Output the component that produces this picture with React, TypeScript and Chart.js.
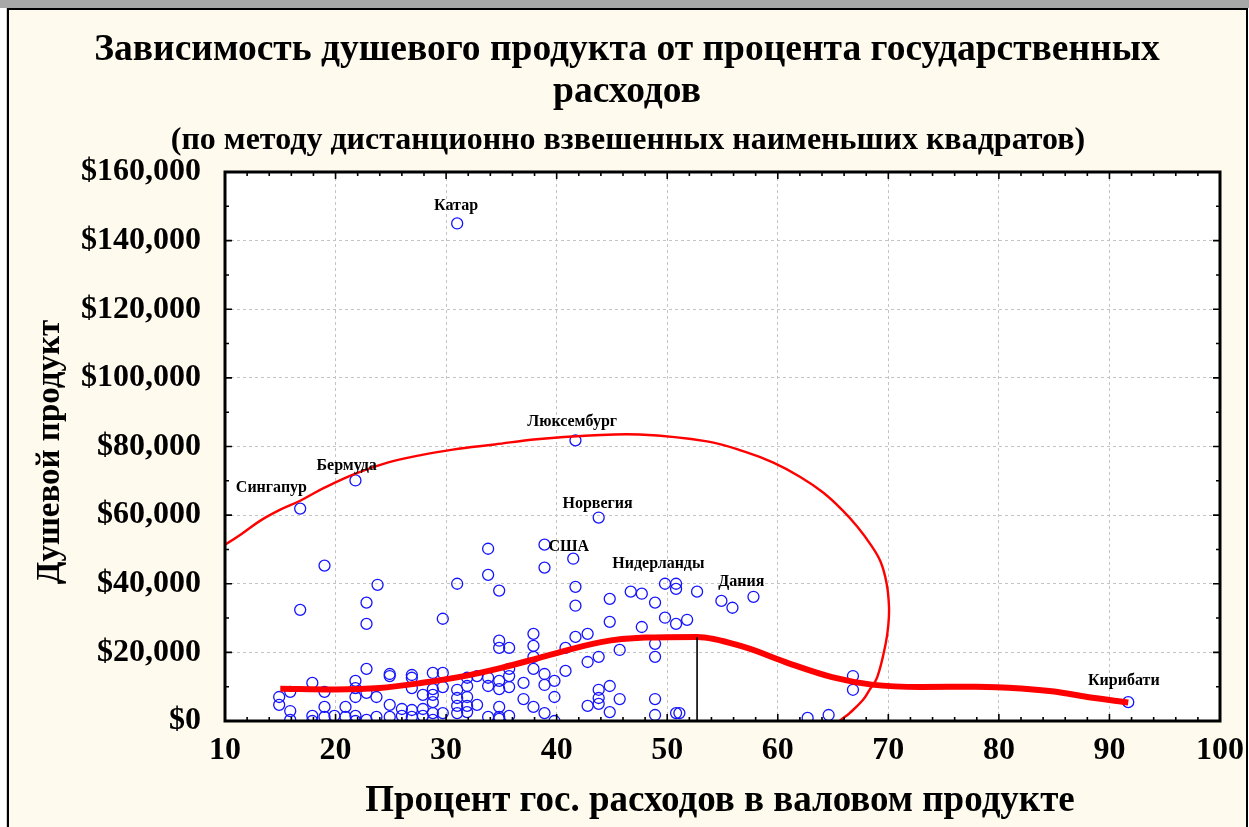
import React, { useEffect, useRef } from 'react';
import { Chart, registerables } from 'chart.js';
Chart.register(...registerables);

const W = 1249;
const H = 827;
const FONT = '"Liberation Serif", "Times New Roman", serif';

const title1 = 'Зависимость душевого продукта от процента государственных';
const title2 = 'расходов';
const subtitle = '(по методу дистанционно взвешенных наименьших квадратов)';
const xTitle = 'Процент гос. расходов в валовом продукте';
const yTitle = 'Душевой продукт';

const xMin = 10;
const xMax = 100;
const xStep = 10;
const yMin = 0;
const yMax = 160000;
const yStep = 20000;

const ptX = [
  31.0, 41.7, 21.8, 16.8, 43.8, 38.9, 91.7,
  41.5, 33.8, 19.0, 33.8, 23.8, 31.0, 34.8, 16.8, 22.8, 22.8, 29.7, 38.9, 41.7, 41.7,
  49.8, 50.8, 50.8, 52.7, 46.7, 47.7, 44.8, 48.9, 54.9, 55.9, 57.8,
  49.8, 50.8, 51.8, 47.7, 44.8, 42.8, 41.7, 40.8, 48.9, 48.9, 45.7, 43.8, 42.8,
  38.9, 39.8, 38.9, 40.8, 39.8, 43.8, 44.8, 43.8, 43.8, 42.8, 45.7, 44.8, 48.9, 48.9, 50.8, 51.1, 38.9, 39.8,
  66.8, 66.8, 62.7, 64.6,
  34.8, 34.8, 35.7, 37.9, 37.9, 37.9, 37.9,
  22.8, 24.9, 24.9, 26.9, 26.9, 28.8, 29.7, 17.9, 21.8, 21.8,
  31.9, 31.9, 32.8, 33.8, 33.8, 34.8, 34.8, 35.7, 35.7, 35.7, 37.0,
  14.9, 14.9, 15.9, 19.0, 22.8, 23.7, 21.8, 26.9, 27.9, 28.8, 28.8, 28.8, 29.7,
  31.0, 31.0, 31.0, 31.0, 31.9, 31.9, 31.9, 32.8, 34.8, 34.8, 35.7, 37.0, 37.9, 24.9,
  15.9, 15.9, 17.9, 17.9, 19.0, 19.0, 19.9, 20.9, 20.9, 21.8, 21.8, 22.8, 23.7, 24.9, 26.0, 26.0, 26.9, 26.9, 27.9, 27.9, 28.8, 28.8, 29.7, 33.8, 34.8,
];
const ptY = [
  145000, 81800, 70100, 61900, 59300, 51400, 5500,
  47300, 50200, 45300, 42600, 39700, 40000, 38000, 32400, 34500, 28300, 29800, 44700, 39100, 33600,
  40000, 40000, 38500, 37700, 37700, 37100, 35600, 34500, 35000, 33000, 36200,
  30100, 28300, 29500, 27400, 28900, 25400, 24500, 21300, 22500, 18700, 20700, 18700, 17200,
  13700, 11700, 10500, 14600, 7000, 9100, 10200, 6700, 5000, 4400, 6400, 2600, 6400, 1750, 2300, 2300, 2300, 0,
  13100, 9100, 900, 1750,
  23400, 21300, 21300, 25400, 21900, 18700, 15200,
  15200, 13700, 13100, 13400, 12600, 14000, 14000, 11100, 11700, 9600,
  12600, 10200, 13100, 12600, 10200, 11700, 9300, 15200, 13100, 9900, 11100,
  7000, 4700, 8500, 8500, 8200, 7000, 7000, 9600, 7600, 9300, 7600, 5500, 9900,
  9100, 6700, 4400, 2300, 7000, 4400, 2600, 4700, 4100, 1200, 1500, 6400, 4100, 4700,
  2900, 300, 1500, 0, 4100, 1200, 1500, 4100, 1200, 1500, 0, 300, 1200, 1200, 3500, 1500, 3200, 1200, 3500, 1500, 2300, 300, 2300, 1200, 600,
];

// distance-weighted least squares fit
const fitX = [15.0, 20, 24, 28, 31, 35, 39, 44, 48, 52.7, 57, 61, 65, 68.5, 73, 78, 82, 85, 88, 91.7];
const fitY = [9400, 9200, 9600, 11200, 12700, 15500, 18900, 23000, 24300, 24500, 21500, 16800, 12700, 10600, 9900, 10000, 9500, 8600, 7000, 5400];

// ellipse
const ellX = [
  7.7, 10.0, 11.4, 13.2, 15.0, 16.8, 19.0, 21.8, 24.7, 27.6, 30.6, 34.4, 38.2, 43.0, 47.5,
  53.6, 57.0, 59.6, 62.0, 64.1, 65.8, 67.2, 68.4, 69.3, 69.85, 70.06, 70.0, 69.75, 69.0, 68.3, 67.7, 66.5, 65.6, 64.5,
];
const ellY = [
  47000, 51400, 54300, 58400, 61600, 64200, 68000, 72100, 75300, 77400, 79100, 80600, 82100, 83200, 83500,
  81500, 78500, 75300, 71200, 66600, 61600, 56600, 51400, 46400, 40000, 33300, 28000, 22400, 12800, 9100, 6100, 2300, 0, -3500,
];

// vertical marker at the maximum
const markX = [52.7, 52.7];
const markY = [24400, 0];

const labelText = ['Катар', 'Люксембург', 'Бермуда', 'Сингапур', 'Норвегия', 'США', 'Нидерланды', 'Дания', 'Кирибати'];
const labelX = [30.9, 41.4, 21.0, 14.2, 43.7, 41.1, 49.2, 56.7, 91.3];
const labelY = [150100, 87300, 74500, 68000, 63400, 50800, 45800, 40600, 11700];

const zip = (xs: number[], ys: number[]) => xs.map((x, i) => ({ x, y: ys[i] }));

export default function App() {
  const ref = useRef<HTMLCanvasElement>(null);
  useEffect(() => {
    document.body.style.margin = '0';
    const canvas = ref.current!;
    const bgPlugin = {
      id: 'bgPlugin',
      beforeDraw(c: any) {
        const g = c.ctx;
        const a = c.chartArea;
        g.save();
        g.fillStyle = '#ffffff';
        g.fillRect(0, 0, W, H);
        g.fillStyle = '#a8a8a8';
        g.fillRect(0, 0, W, 8);
        g.fillStyle = '#d0d0d0';
        g.fillRect(6, 8, 2, H - 8);
        g.fillStyle = '#fffaee';
        g.fillRect(8, 8, W - 10, H - 8);
        g.fillStyle = '#000';
        g.fillRect(8, 8, W - 9, 2);
        g.fillRect(7, 8, 2, H - 8);
        g.fillRect(W - 3, 8, 2, H - 8);
        g.fillStyle = '#ffffff';
        g.fillRect(a.left, a.top, a.right - a.left, a.bottom - a.top);
        g.restore();
      },
    };
    const framePlugin = {
      id: 'framePlugin',
      afterDatasetsDraw(c: any) {
        const g = c.ctx;
        const { left, right, top, bottom } = c.chartArea;
        const xs = c.scales.x;
        const ys = c.scales.y;
        g.save();
        g.strokeStyle = '#000';
        g.lineWidth = 1.6;
        g.beginPath();
        for (let v = xMin; v <= xMax; v += xStep / 5) {
          const px = xs.getPixelForValue(v);
          const len = Math.abs(v % xStep) < 1e-6 ? 7 : 4;
          g.moveTo(px, bottom); g.lineTo(px, bottom - len);
          g.moveTo(px, top); g.lineTo(px, top + len);
        }
        for (let v = yMin; v <= yMax; v += yStep / 2) {
          const py = ys.getPixelForValue(v);
          const len = v % yStep === 0 ? 7 : 4;
          g.moveTo(left, py); g.lineTo(left + len, py);
          g.moveTo(right, py); g.lineTo(right - len, py);
        }
        g.stroke();
        g.lineWidth = 3;
        g.strokeRect(left, top, right - left, bottom - top);
        g.restore();
      },
    };
    const textPlugin = {
      id: 'textPlugin',
      afterDraw(c: any) {
        const g = c.ctx;
        const xs = c.scales.x;
        const ys = c.scales.y;
        g.save();
        g.fillStyle = '#000';
        g.textAlign = 'center';
        g.textBaseline = 'middle';
        g.font = `bold 37.5px ${FONT}`;
        g.fillText(title1, 627, 50);
        g.fillText(title2, 627, 92);
        g.font = `bold 32px ${FONT}`;
        g.fillText(subtitle, 628, 141);
        g.font = `bold 37px ${FONT}`;
        g.fillText(xTitle, 720, 801);
        g.font = `bold 33px ${FONT}`;
        g.save();
        g.translate(50, 452);
        g.rotate(-Math.PI / 2);
        g.fillText(yTitle, 0, 0);
        g.restore();
        g.font = `bold 16px ${FONT}`;
        labelText.forEach((t, i) => {
          g.fillText(t, xs.getPixelForValue(labelX[i]), ys.getPixelForValue(labelY[i]));
        });
        g.restore();
      },
    };
    const tickFont = { family: FONT, size: 32, weight: 'bold' as const };
    const chart = new Chart(canvas, {
      type: 'scatter',
      data: {
        datasets: [
          {
            type: 'line',
            data: zip(markX, markY),
            borderColor: '#000000',
            borderWidth: 1.6,
            pointRadius: 0,
            fill: false,
            order: 1,
            clip: 0,
          } as any,
          {
            type: 'line',
            data: zip(fitX, fitY),
            borderColor: '#ff0000',
            borderWidth: 6,
            pointRadius: 0,
            fill: false,
            cubicInterpolationMode: 'monotone',
            order: 2,
            clip: 0,
          } as any,
          {
            type: 'line',
            data: zip(ellX, ellY),
            borderColor: '#ff0000',
            borderWidth: 2.4,
            pointRadius: 0,
            fill: false,
            tension: 0.4,
            capBezierPoints: false,
            order: 3,
            clip: 0,
          } as any,
          {
            type: 'scatter',
            data: zip(ptX, ptY),
            pointRadius: 5.5,
            pointBorderWidth: 1.3,
            pointBorderColor: '#1414ff',
            pointBackgroundColor: 'rgba(255,255,255,0)',
            showLine: false,
            order: 4,
            clip: 0,
          } as any,
        ],
      },
      options: {
        responsive: false,
        maintainAspectRatio: false,
        animation: false,
        layout: { padding: { top: 172, right: 29, left: 0, bottom: 0 } },
        plugins: { legend: { display: false }, tooltip: { enabled: false }, title: { display: false } },
        scales: {
          x: {
            type: 'linear',
            min: xMin,
            max: xMax,
            afterFit: (s: any) => { s.height = 106; s.paddingLeft = 0; s.paddingRight = 0; },
            ticks: { stepSize: xStep, font: tickFont, color: '#000', padding: 11, maxRotation: 0, autoSkip: false },
            grid: { color: '#c4c4c4', lineWidth: 1, drawTicks: false },
            border: { display: false, dash: [3, 3] },
          },
          y: {
            type: 'linear',
            min: yMin,
            max: yMax,
            afterFit: (s: any) => { s.width = 225; s.paddingTop = 0; s.paddingBottom = 0; },
            ticks: {
              stepSize: yStep,
              font: tickFont,
              color: '#000',
              padding: 24,
              autoSkip: false,
              callback: (v: any) => '$' + Number(v).toLocaleString('en-US'),
            },
            grid: { color: '#c4c4c4', lineWidth: 1, drawTicks: false },
            border: { display: false, dash: [3, 3] },
          },
        },
      },
      plugins: [bgPlugin, framePlugin, textPlugin],
    });
    return () => chart.destroy();
  }, []);
  return (
    <div style={{ width: W, height: H, position: 'relative' }}>
      <canvas ref={ref} width={W} height={H} style={{ display: 'block', width: W, height: H }} />
    </div>
  );
}
